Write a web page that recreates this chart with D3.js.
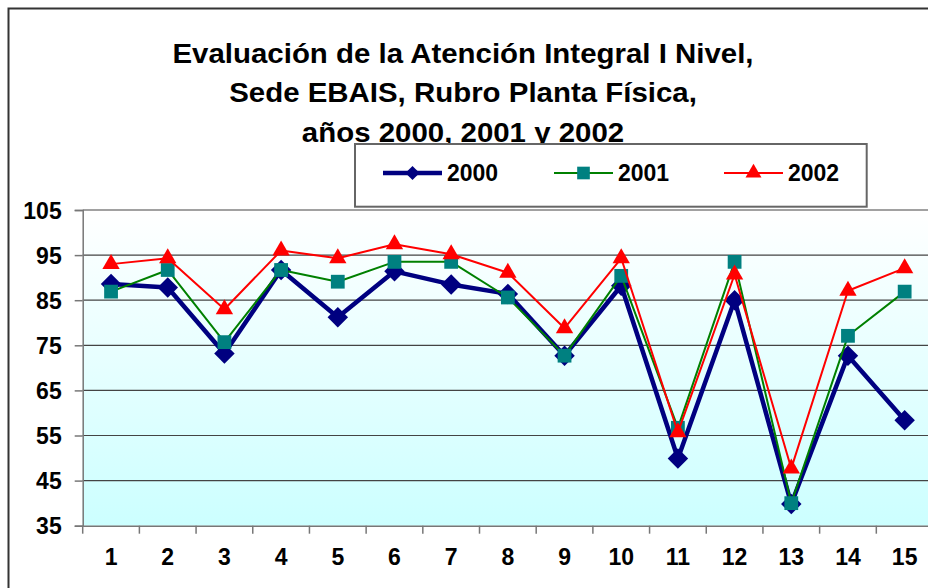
<!doctype html>
<meta charset="utf-8">
<style>
body { margin: 0; background: #fff; }
text { font-family: "Liberation Sans", Arial, sans-serif; font-weight: bold; }
</style>
<script src="https://d3js.org/d3.v7.min.js"></script>
<body>
<svg id="chart"></svg>
<script>
var categories = ["1","2","3","4","5","6","7","8","9","10","11","12","13","14","15"];
var s2000 = [88.6, 87.8, 73.2, 91.7, 81.2, 91.4, 88.5, 86.4, 72.7, 88.2, 49.9, 85.0, 39.8, 72.7, 58.4];
var s2001 = [86.9, 91.7, 75.7, 91.7, 89.1, 93.5, 93.5, 85.6, 72.7, 90.4, 56.7, 93.5, 40.0, 77.1, 86.9];
var s2002 = [93.0, 94.3, 83.0, 96.0, 94.3, 97.4, 95.2, 91.1, 78.8, 94.3, 55.7, 90.7, 47.7, 87.1, 92.1];
var yTicks = [35, 45, 55, 65, 75, 85, 95, 105];
var titleLines = ["Evaluación de la Atención Integral I Nivel,", "Sede EBAIS, Rubro Planta Física,", "años 2000, 2001 y 2002"];

var width = 928, height = 588;
var svg = d3.select("#chart").attr("width", width).attr("height", height);

// outer chart frame (runs off the right and bottom edge)
svg.append("rect")
  .attr("x", 8.5).attr("y", 8.5).attr("width", 940).attr("height", 600)
  .attr("fill", "#fff").attr("stroke", "#333").attr("stroke-width", 2);

var plot = {left: 82.7, right: 933, top: 210, bottom: 525.7};

var x = d3.scaleBand().domain(categories).range([plot.left, plot.right]);
var y = d3.scaleLinear().domain([35, 105]).range([plot.bottom, plot.top]);

var defs = svg.append("defs");
var grad = defs.append("linearGradient").attr("id", "bg").attr("x1", 0).attr("y1", 0).attr("x2", 0).attr("y2", 1);
grad.append("stop").attr("offset", "0%").attr("stop-color", "#ffffff");
grad.append("stop").attr("offset", "100%").attr("stop-color", "#ccffff");

svg.append("rect")
  .attr("x", plot.left).attr("y", plot.top)
  .attr("width", plot.right - plot.left).attr("height", plot.bottom - plot.top)
  .attr("fill", "url(#bg)");

// gridlines
svg.append("g").selectAll("line").data(yTicks.slice(1)).join("line")
  .attr("x1", plot.left).attr("x2", plot.right)
  .attr("y1", function(d){ return y(d); }).attr("y2", function(d){ return y(d); })
  .attr("stroke", "#444").attr("stroke-width", 1.2);

// y axis
var yAxis = svg.append("g")
  .attr("transform", "translate(" + plot.left + ",0)")
  .call(d3.axisLeft(y).tickValues(yTicks).tickSize(8).tickPadding(13));
yAxis.select(".domain").attr("stroke", "#777").attr("stroke-width", 1.5);
yAxis.selectAll(".tick line").attr("stroke", "#777").attr("stroke-width", 1.5);
yAxis.selectAll("text").attr("fill", "#000").style("font-size", "23px").attr("dy", "0.36em");

// x axis: ticks between categories
var xAxis = svg.append("g")
  .attr("transform", "translate(0," + plot.bottom + ")")
  .call(d3.axisBottom(x).tickSize(0).tickPadding(23));
xAxis.select(".domain").attr("stroke", "#777").attr("stroke-width", 1.5);
xAxis.selectAll("text").attr("fill", "#000").style("font-size", "23px");
xAxis.append("g").selectAll("line").data(categories).join("line")
  .attr("x1", function(d){ return x(d); }).attr("x2", function(d){ return x(d); })
  .attr("y1", 0).attr("y2", 8)
  .attr("stroke", "#777").attr("stroke-width", 1.5);

var cx = function(i){ return x(categories[i]) + x.bandwidth() / 2; };

// diamond = square turned 45 degrees
var series = [
  {name: "2000", values: s2000, line: "#000080", width: 4.5, fill: "#000080", shape: d3.symbolSquare, rot: 45, size: 210, lsize: 100},
  {name: "2001", values: s2001, line: "#008000", width: 2, fill: "#008080", shape: d3.symbolSquare, rot: 0, size: 190, lsize: 160},
  {name: "2002", values: s2002, line: "#ff0000", width: 2, fill: "#ff0000", shape: d3.symbolTriangle, rot: 0, size: 130, lsize: 110}
];

var line = d3.line().x(function(d, i){ return cx(i); }).y(function(d){ return y(d); });

series.forEach(function(s){
  var g = svg.append("g");
  g.append("path").datum(s.values)
    .attr("d", line).attr("fill", "none")
    .attr("stroke", s.line).attr("stroke-width", s.width).attr("stroke-linejoin", "round");
  g.selectAll("path.m").data(s.values).join("path")
    .attr("class", "m")
    .attr("d", d3.symbol().type(s.shape).size(s.size))
    .attr("transform", function(d, i){ return "translate(" + cx(i) + "," + y(d) + ") rotate(" + s.rot + ")"; })
    .attr("fill", s.fill);
});

// title (Excel stretched it a bit horizontally)
svg.append("g").selectAll("text").data(titleLines).join("text")
  .attr("transform", function(d, i){ return "translate(463," + [63, 101.7, 141.5][i] + ") scale(1.09,1)"; })
  .attr("text-anchor", "middle")
  .style("font-size", "27px")
  .text(function(d){ return d; });

// legend
var legend = svg.append("g");
legend.append("rect")
  .attr("x", 355).attr("y", 144).attr("width", 511.7).attr("height", 62.7)
  .attr("fill", "#fff").attr("stroke", "#666").attr("stroke-width", 2);
var legX = [383, 554, 724];
series.forEach(function(s, i){
  var g = legend.append("g").attr("transform", "translate(" + legX[i] + ",173)");
  g.append("line").attr("x1", 0).attr("x2", 59).attr("y1", 0).attr("y2", 0)
    .attr("stroke", s.line).attr("stroke-width", s.width);
  g.append("path").attr("d", d3.symbol().type(s.shape).size(s.lsize))
    .attr("transform", "translate(29.5,0) rotate(" + s.rot + ")").attr("fill", s.fill);
  g.append("text").attr("x", 64).attr("y", 8).style("font-size", "23px").text(s.name);
});
</script>
</body>
</html>
